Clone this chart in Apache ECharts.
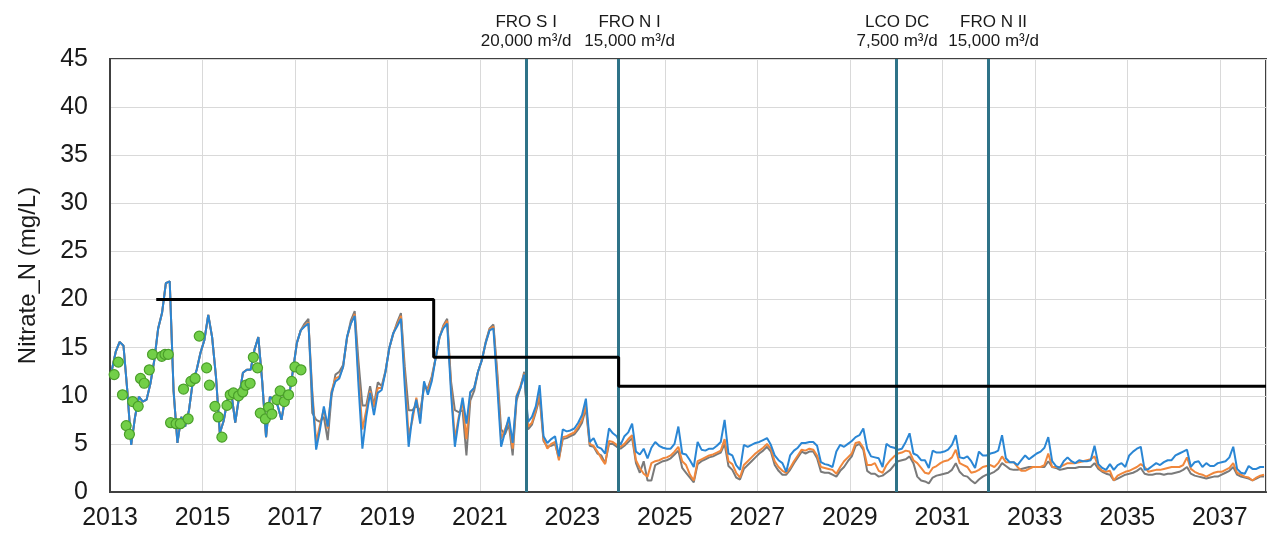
<!DOCTYPE html>
<html><head><meta charset="utf-8">
<script src="https://cdn.jsdelivr.net/npm/echarts/dist/echarts.min.js"></script>
<style>html,body{margin:0;padding:0;background:#fff}#c{width:1267px;height:538px}</style>
</head><body><div id="c"></div>
<script>
// ---- data ----
const firstYear = 2013; // monthly series start (Jan 2013), one value per month

// values common to all three model runs, 2013-2016
const common2013to2016 = [
  12.7,14.6,15.6,15.2,10.5,4.9,7.8,9.9,9.4,9.6,11.3,13.7,
  17.0,18.6,21.7,21.9,10.5,5.1,7.8,6.8,8.5,11.5,12.7,14.5,
  15.8,18.4,16.1,12.0,6.1,7.4,9.6,10.3,7.2,9.9,12.4,12.7,
  12.7,14.8,16.1,11.5,5.7,9.9,9.6,9.0,7.5,9.9,10.0,12.7
];
const blueFrom2017 = [
  15.5,16.8,17.2,17.5,10.0,4.4,6.5,8.9,6.8,10.3,11.5,11.8,
  13.0,16.1,17.5,18.3,11.0,4.5,7.8,10.3,8.0,10.3,10.6,12.5,
  15.0,16.5,17.2,18.0,11.0,4.7,8.0,9.6,7.1,11.5,10.1,11.5,
  13.9,16.1,17.0,17.5,10.3,4.7,7.5,9.8,7.1,10.4,10.8,12.5,
  13.7,15.5,16.8,17.0,11.0,4.7,6.2,7.8,5.1,9.9,10.8,12.2,
  7.3,7.8,8.9,11.1,5.8,5.1,5.5,5.8,3.7,6.5,6.3,6.4,
  6.6,7.2,8.0,9.7,5.2,5.6,4.7,4.5,4.0,6.6,6.1,5.8,
  4.9,5.8,6.2,7.1,4.2,3.9,4.5,3.5,4.6,5.2,4.8,4.6,
  4.5,4.5,5.0,6.8,4.0,3.9,3.3,2.6,5.2,4.4,4.3,4.5,
  4.5,4.8,5.2,7.5,4.0,3.8,2.8,2.3,4.9,4.7,4.9,5.1,
  5.2,5.4,5.6,4.9,3.8,3.3,3.0,2.1,3.8,4.3,4.6,5.1,
  5.1,5.2,5.2,4.8,3.1,2.9,2.8,2.6,4.2,4.9,4.7,5.0,
  5.3,5.7,5.9,6.6,4.5,3.7,3.6,3.5,2.6,5.0,4.7,4.6,
  4.4,4.5,5.2,6.1,4.0,3.8,3.3,3.3,2.5,4.3,4.1,4.1,
  4.2,4.4,4.9,5.9,3.6,3.5,3.7,3.2,2.5,4.2,3.8,3.8,
  4.0,4.1,4.3,5.9,3.5,3.1,3.1,2.8,3.3,3.8,3.4,3.7,
  4.0,4.2,4.6,5.7,3.2,2.7,2.5,3.2,3.6,3.2,3.0,3.3,
  3.2,3.2,3.3,4.8,2.9,2.5,2.3,2.9,2.3,2.8,3.0,2.6,
  3.8,4.2,4.5,4.7,2.3,2.4,2.7,3.0,2.8,3.1,3.3,3.3,
  3.8,4.0,4.2,4.4,2.6,3.1,3.2,2.6,3.0,2.7,2.7,3.0,
  3.1,3.2,3.6,4.7,2.4,2.0,1.9,2.7,2.4,2.4,2.6,2.6
];
const orangeFrom2017 = [
  15.5,16.8,17.3,17.6,10.5,5.2,7.0,8.6,6.6,10.5,11.8,12.0,
  13.0,16.0,17.5,18.5,12.0,6.5,8.5,10.5,8.8,10.8,10.8,12.5,
  15.0,16.5,17.4,18.3,12.0,5.9,7.5,9.8,7.6,11.3,10.5,11.8,
  13.9,16.1,17.2,17.8,11.0,5.5,7.8,9.3,5.5,10.3,10.8,12.5,
  13.7,15.5,16.9,17.2,12.0,5.5,6.5,7.5,4.5,10.0,11.0,12.3,
  6.8,7.2,8.5,10.2,5.5,4.5,5.0,5.2,3.3,5.7,5.8,6.0,
  6.2,6.8,7.5,9.0,5.0,4.8,4.2,3.5,2.9,5.3,5.2,4.9,
  4.7,5.0,5.5,5.9,3.3,2.5,1.9,1.6,3.0,3.2,3.3,3.5,
  3.6,3.8,4.2,4.7,3.2,2.8,1.8,1.2,3.2,3.4,3.6,3.8,
  3.9,4.1,4.3,5.5,3.2,2.9,2.0,1.5,2.8,3.2,3.6,4.0,
  4.3,4.6,5.0,4.5,3.2,2.6,2.2,2.0,2.5,3.2,3.8,4.4,
  4.3,4.5,4.4,3.8,2.6,2.5,2.4,2.3,1.9,2.6,3.2,3.6,
  4.0,5.1,5.2,4.6,2.8,2.8,3.0,2.2,2.0,2.8,3.3,3.7,
  4.0,4.1,4.3,4.2,3.3,3.0,2.5,2.0,1.9,2.5,2.7,3.0,
  3.2,3.3,3.6,4.4,3.0,2.8,2.6,2.0,2.1,2.3,2.6,2.7,
  2.8,2.6,3.0,3.7,3.1,3.1,3.1,2.6,2.2,2.2,2.4,2.6,
  2.6,2.6,2.8,4.0,2.6,2.6,2.6,2.8,3.0,3.0,3.0,3.1,
  3.2,3.3,3.4,3.7,2.6,2.2,2.1,2.2,1.2,1.7,1.9,2.1,
  2.2,2.4,2.6,2.9,2.6,2.1,2.2,2.3,2.3,2.4,2.5,2.6,
  2.6,2.6,2.8,3.6,2.4,2.1,1.9,1.8,1.6,1.8,2.0,2.1,
  2.1,2.3,2.5,3.0,2.0,1.8,1.6,1.5,1.2,1.5,1.7,1.8
];
const grayFrom2017 = [
  15.5,16.8,17.5,18.0,8.2,7.5,7.3,7.8,5.4,10.0,12.2,12.5,
  13.2,16.0,17.8,18.8,13.5,9.0,9.0,11.0,9.0,11.4,11.0,12.6,
  15.0,16.4,17.6,18.6,13.0,8.5,8.5,9.0,8.4,10.8,10.8,12.0,
  13.9,16.0,17.3,18.0,11.5,8.5,8.3,8.5,3.8,9.5,10.5,12.5,
  13.7,15.6,17.0,17.4,12.5,6.5,6.0,7.0,3.8,9.5,10.8,12.5,
  6.5,7.0,8.3,9.8,5.3,4.7,4.8,5.0,3.5,5.5,5.6,5.8,
  6.0,6.5,7.2,8.7,4.8,4.7,4.0,3.8,3.0,5.0,5.0,4.7,
  4.5,4.8,5.2,5.6,3.0,2.0,3.2,1.2,1.2,2.8,3.0,3.2,
  3.3,3.5,3.9,4.3,2.5,2.0,1.5,1.0,2.9,3.2,3.4,3.6,
  3.7,3.9,4.1,5.0,2.7,2.3,1.5,1.3,2.4,2.8,3.2,3.6,
  4.0,4.3,4.7,4.2,2.8,2.2,1.8,1.8,2.3,3.0,3.6,4.2,
  4.0,4.2,4.2,3.5,2.1,2.0,2.0,1.8,1.6,2.2,2.6,3.2,
  3.7,4.8,5.0,4.4,2.2,1.9,1.9,1.6,1.7,2.0,2.3,2.8,
  3.2,3.3,3.4,3.7,3.0,1.6,1.2,1.1,0.9,1.5,1.7,1.8,
  1.9,2.0,2.3,3.0,2.1,1.7,1.6,1.2,0.9,1.3,1.6,1.8,
  1.9,2.1,2.4,3.0,2.7,2.4,2.3,2.3,2.4,2.5,2.6,2.6,
  2.6,2.6,2.6,3.2,2.6,2.5,2.3,2.4,2.5,2.5,2.5,2.6,
  2.6,2.6,2.6,3.0,2.4,2.1,1.9,1.8,1.2,1.4,1.6,1.8,
  1.9,2.0,2.2,2.5,1.9,1.8,1.8,1.9,1.9,1.8,1.9,1.9,
  2.0,2.1,2.3,2.6,1.9,1.7,1.6,1.5,1.4,1.5,1.6,1.6,
  1.8,2.0,2.2,2.6,1.8,1.6,1.5,1.4,1.2,1.4,1.6,1.6
];

// observed samples (decimal year, mg/L)
const obsYears = [2013.09,2013.18,2013.27,2013.35,2013.42,2013.49,2013.61,2013.66,2013.74,2013.85,2013.92,
  2014.12,2014.19,2014.26,2014.31,2014.43,2014.52,2014.59,2014.69,2014.75,2014.84,2014.93,
  2015.09,2015.15,2015.27,2015.34,2015.42,2015.53,2015.60,2015.67,2015.78,2015.87,2015.94,
  2016.03,2016.10,2016.19,2016.25,2016.36,2016.43,2016.50,2016.61,2016.68,2016.77,2016.86,2016.93,
  2017.00,2017.13];
const obsValues = [12.2,13.5,10.1,6.9,6.0,9.4,8.9,11.8,11.3,12.7,14.3,
  14.1,14.3,14.3,7.2,7.1,7.1,10.7,7.6,11.5,11.8,16.2,
  12.9,11.1,8.9,7.8,5.7,9.0,10.1,10.3,10.0,10.4,11.1,
  11.3,14.0,12.9,8.2,7.6,8.8,8.1,9.6,10.5,9.4,10.1,11.5,
  13.0,12.7];

// regulatory limit (step line)
const limitYears  = [2014, 2020, 2020, 2024, 2024, 2038];
const limitValues = [20,   20,   14,   14,   11,   11];

// plant commissioning events
const eventYears = [2022, 2024, 2030, 2032];
const eventNames = ['FRO S I', 'FRO N I', 'LCO DC', 'FRO N II'];
const eventRates = ['20,000 m³/d', '15,000 m³/d', '7,500 m³/d', '15,000 m³/d'];
const eventLabelShift = [0, 22, 2, 10];

const xMin = 2013, xMax = 2038, xStep = 2;
const yMin = 0, yMax = 45, yStep = 5;
const yTitle = 'Nitrate_N (mg/L)';

// ---- build ----
const blue = common2013to2016.concat(blueFrom2017);
const orange = common2013to2016.concat(orangeFrom2017);
const gray = common2013to2016.concat(grayFrom2017);
const monthly = arr => arr.map((v, i) => [firstYear + (i + 0.5) / 12, v]);
const FONT = '"Liberation Sans", Arial, sans-serif';

const chart = echarts.init(document.getElementById('c'), null, {renderer: 'canvas'});
chart.setOption({
  animation: false,
  textStyle: {fontFamily: FONT},
  grid: {left: 110, right: 1, top: 59, bottom: 46, show: true, borderColor: '#404040', borderWidth: 2, backgroundColor: 'transparent'},
  xAxis: {
    type: 'value', min: xMin, max: xMax, interval: xStep,
    axisLine: {show: true, lineStyle: {color: '#404040', width: 2}},
    axisTick: {show: false},
    splitLine: {show: true, lineStyle: {color: '#d9d9d9', width: 1}},
    axisLabel: {fontSize: 25, color: '#1a1a1a', margin: 14, showMaxLabel: false, formatter: v => String(v)}
  },
  yAxis: {
    type: 'value', min: yMin, max: yMax, interval: yStep,
    name: yTitle, nameLocation: 'middle', nameGap: 70,
    nameTextStyle: {fontSize: 24, color: '#1a1a1a', fontFamily: FONT},
    axisLine: {show: true, lineStyle: {color: '#404040', width: 2}},
    axisTick: {show: false},
    splitLine: {show: true, lineStyle: {color: '#d9d9d9', width: 1}},
    axisLabel: {fontSize: 25, color: '#1a1a1a', margin: 22}
  },
  series: [
    {type: 'line', name: 'gray', data: monthly(gray), showSymbol: false, symbol: 'none', z: 2,
     lineStyle: {color: '#7a7a7a', width: 2}},
    {type: 'line', name: 'orange', data: monthly(orange), showSymbol: false, symbol: 'none', z: 3,
     lineStyle: {color: '#f0873c', width: 2}},
    {type: 'line', name: 'blue', data: monthly(blue), showSymbol: false, symbol: 'none', z: 4,
     lineStyle: {color: '#2a86d4', width: 2}},
    {type: 'line', name: 'limit', data: limitYears.map((y, i) => [y, limitValues[i]]), showSymbol: false, symbol: 'none', z: 5,
     lineStyle: {color: '#000000', width: 3}},
    {type: 'scatter', name: 'observed', data: obsYears.map((y, i) => [y, obsValues[i]]), symbolSize: 10, z: 6,
     itemStyle: {color: '#72cf48', borderColor: '#4a9f2a', borderWidth: 1.2, opacity: 1}},
    {type: 'line', name: 'events', data: [], z: 8,
     markLine: {
       silent: true, symbol: ['none', 'none'], animation: false,
       lineStyle: {color: '#2f7388', width: 3, type: 'solid'},
       label: {show: true, position: 'end', fontSize: 17, lineHeight: 19, color: '#1a1a1a', fontFamily: FONT, distance: 8, align: 'center'},
       data: eventYears.map((y, i) => ({
         xAxis: y,
         label: {formatter: eventNames[i] + '\n' + eventRates[i], padding: [0, 0, 0, eventLabelShift[i]]}
       }))
     }}
  ]
});
</script></body></html>
